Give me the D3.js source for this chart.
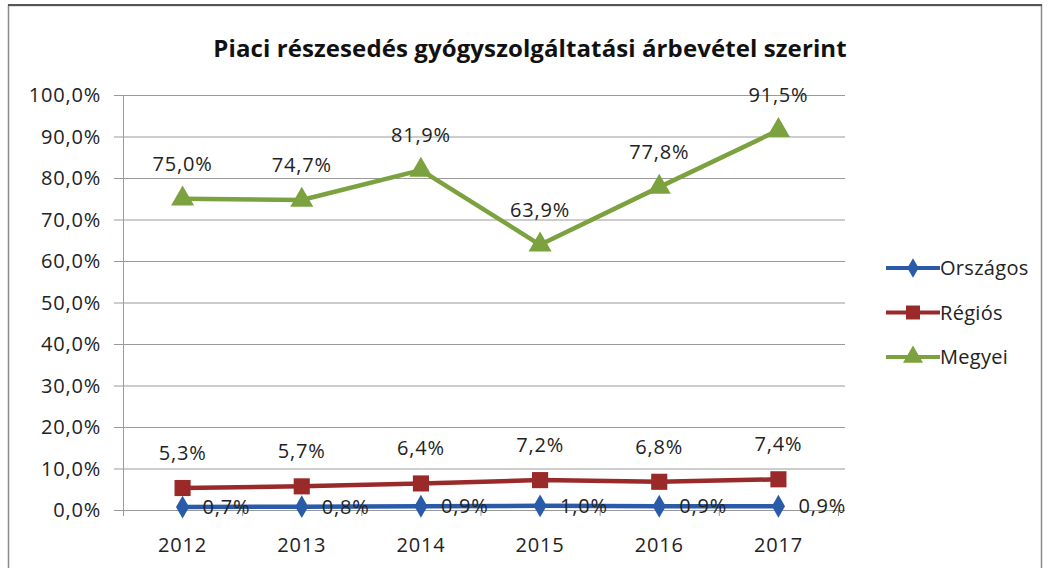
<!DOCTYPE html>
<html>
<head>
<meta charset="utf-8">
<script src="https://cdn.jsdelivr.net/npm/d3@7"></script>
<style>
  body { margin: 0; background: #fff; }
  svg { display: block; font-family: "Open Sans", Lato, sans-serif; }
</style>
</head>
<body>
<div id="chart"></div>
<script>
// data
const years = ["2012", "2013", "2014", "2015", "2016", "2017"];
const orszagos = [0.7, 0.8, 0.9, 1.0, 0.9, 0.9];
const regios = [5.3, 5.7, 6.4, 7.2, 6.8, 7.4];
const megyei = [75.0, 74.7, 81.9, 63.9, 77.8, 91.5];
const yTicks = [0, 10, 20, 30, 40, 50, 60, 70, 80, 90, 100];

const series = [
  { name: "Országos", values: orszagos, color: "#2a5ba8", symbol: d3.symbolDiamond, size: 150, labelPos: "right" },
  { name: "Régiós", values: regios, color: "#9a2a2a", symbol: d3.symbolSquare, size: 260, labelPos: "top" },
  { name: "Megyei", values: megyei, color: "#7ba23f", symbol: d3.symbolTriangle, size: 230, labelPos: "top" }
];

const width = 1049, height = 568;
const margin = { left: 123, right: 211, top: 95, bottom: 58 };
const fontSize = 20, spacing = 0.8;

const svg = d3.select("#chart").append("svg")
  .attr("width", width)
  .attr("height", height);

// chart frame
svg.append("rect")
  .attr("x", 8.5).attr("y", 5.5)
  .attr("width", 1033).attr("height", 580)
  .attr("fill", "#fff")
  .attr("stroke", "#8a8a8a")
  .attr("stroke-width", 1.5);
svg.append("line")
  .attr("x1", 8).attr("x2", 1042).attr("y1", 5).attr("y2", 5)
  .attr("stroke", "#555").attr("stroke-width", 2);

const fmt = v => d3.format(".1f")(v).replace(".", ",") + "%";

const x = d3.scaleBand()
  .domain(years)
  .range([margin.left, 838]);

const y = d3.scaleLinear()
  .domain([0, 100])
  .range([height - margin.bottom, margin.top]);

// gridlines
svg.append("g")
  .selectAll("line")
  .data(yTicks)
  .join("line")
  .attr("x1", margin.left - 9)
  .attr("x2", 845)
  .attr("y1", d => y(d) + 0.5)
  .attr("y2", d => y(d) + 0.5)
  .attr("stroke", "#9a9a9a")
  .attr("stroke-width", 1);

// y axis line
svg.append("line")
  .attr("x1", margin.left + 0.5).attr("x2", margin.left + 0.5)
  .attr("y1", y(100)).attr("y2", y(0))
  .attr("stroke", "#9a9a9a");

// y tick labels
svg.append("g")
  .selectAll("text")
  .data(yTicks)
  .join("text")
  .attr("x", 101)
  .attr("y", d => y(d))
  .attr("dy", "0.36em")
  .attr("text-anchor", "end")
  .attr("font-size", fontSize)
  .attr("letter-spacing", spacing)
  .attr("fill", "#222")
  .text(d => fmt(d));

// x axis ticks
svg.append("g")
  .selectAll("line")
  .data(years.concat(["end"]))
  .join("line")
  .attr("x1", (d, i) => margin.left + i * x.bandwidth() + 0.5)
  .attr("x2", (d, i) => margin.left + i * x.bandwidth() + 0.5)
  .attr("y1", y(0))
  .attr("y2", y(0) + 6)
  .attr("stroke", "#9a9a9a");

svg.append("g")
  .selectAll("text")
  .data(years)
  .join("text")
  .attr("x", d => x(d) + x.bandwidth() / 2)
  .attr("y", y(0) + 42)
  .attr("text-anchor", "middle")
  .attr("font-size", fontSize)
  .attr("letter-spacing", spacing)
  .attr("fill", "#222")
  .text(d => d);

const line = d3.line()
  .x((d, i) => x(years[i]) + x.bandwidth() / 2)
  .y(d => y(d));

series.forEach(s => {
  const g = svg.append("g");
  g.append("path")
    .datum(s.values)
    .attr("d", line)
    .attr("fill", "none")
    .attr("stroke", s.color)
    .attr("stroke-width", 4.5)
    .attr("stroke-linejoin", "round");

  g.selectAll("path.mark")
    .data(s.values)
    .join("path")
    .attr("class", "mark")
    .attr("transform", (d, i) => `translate(${x(years[i]) + x.bandwidth() / 2},${y(d)})`)
    .attr("d", d3.symbol().type(s.symbol).size(s.size))
    .attr("fill", s.color);

  g.selectAll("text")
    .data(s.values)
    .join("text")
    .attr("x", (d, i) => x(years[i]) + x.bandwidth() / 2 + (s.labelPos === "right" ? 20 : 0))
    .attr("y", d => y(d) - (s.labelPos === "right" ? 0 : 28))
    .attr("dy", s.labelPos === "right" ? "0.36em" : "0")
    .attr("text-anchor", s.labelPos === "right" ? "start" : "middle")
    .attr("font-size", fontSize)
    .attr("letter-spacing", spacing)
    .attr("fill", "#222")
    .text(d => fmt(d));
});

// title
svg.append("text")
  .attr("x", 530)
  .attr("y", 57)
  .attr("text-anchor", "middle")
  .attr("font-size", 24)
  .attr("font-weight", "bold")
  .attr("letter-spacing", 0.1)
  .attr("fill", "#111")
  .text("Piaci  részesedés gyógyszolgáltatási árbevétel szerint");

// legend
const legend = svg.append("g")
  .selectAll("g")
  .data(series)
  .join("g")
  .attr("transform", (d, i) => `translate(886,${268 + i * 44.5})`);

legend.append("line")
  .attr("x1", 0).attr("x2", 54)
  .attr("stroke", d => d.color)
  .attr("stroke-width", 4);
legend.append("path")
  .attr("transform", "translate(27,0)")
  .attr("d", d => d3.symbol().type(d.symbol).size(d.size * 0.75)())
  .attr("fill", d => d.color);
legend.append("text")
  .attr("x", 54)
  .attr("dy", "0.36em")
  .attr("font-size", fontSize)
  .attr("letter-spacing", 0.3)
  .attr("fill", "#222")
  .text(d => d.name);
</script>
</body>
</html>
